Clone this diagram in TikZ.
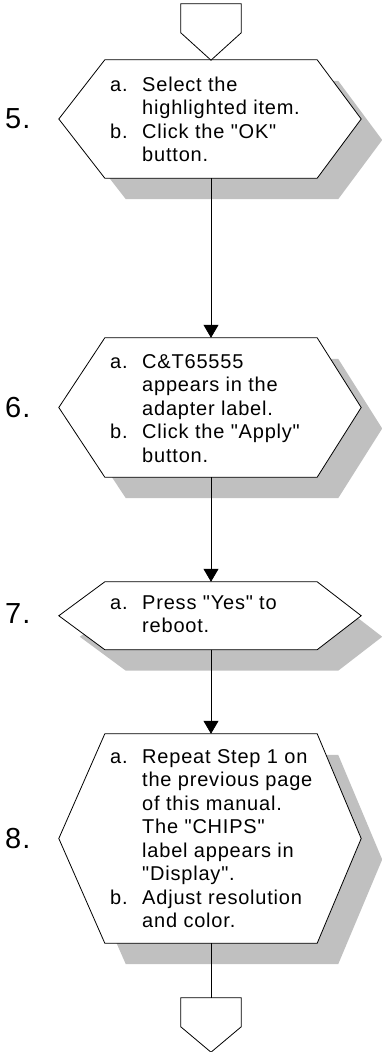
\documentclass[tikz,border=0pt]{standalone}
\usepackage{fontspec}
\setmainfont{Liberation Sans}[LetterSpace=4, Ligatures=TeXOff]
\usetikzlibrary{arrows.meta}
\definecolor{shadowc}{HTML}{C0C0C0}
\newcommand{\steplab}[1]{\makebox[32pt][l]{#1}}
\newcommand{\stepind}{\hspace*{32pt}}
\newcommand{\steptext}[1]{\parbox[t]{250pt}{\fontsize{20}{23.5}\selectfont #1}}
\begin{document}
\begin{tikzpicture}[x=1pt,y=-1pt,
  boxrect/.style={rectangle, draw=none, inner sep=0, minimum width=212pt},
  txt/.style={anchor=base west, inner sep=0},
  num/.style={anchor=west, inner sep=0, font=\fontsize{29}{30}\selectfont},
  outline/.style={draw=black, line width=0.8pt, fill=white, line join=miter},
  link/.style={draw=black, line width=0.8pt},
  arr/.style={link, -{Triangle[length=13pt,width=15pt]}}]
\useasboundingbox (0,0) rectangle (381,1052);

% box frames (main and shadow)
\foreach \n/\cy/\h in {b5/119/118, b6/407.5/139, b7/615.75/67.5, b8/838.5/209}{
  \node[boxrect, minimum height=\h pt] (\n) at (211,\cy) {};
  \node[boxrect, minimum height=\h pt] (\n s) at (232,\cy+21) {};
}

% shadows
\foreach \n in {b5s,b6s,b7s,b8s}{
  \fill[shadowc] (\n.north west) -- (\n.north east) -- ([xshift=44pt]\n.east)
    -- (\n.south east) -- (\n.south west) -- ([xshift=-46pt]\n.west) -- cycle;
}
% hexagons
\foreach \n in {b5,b6,b7,b8}{
  \path[outline] (\n.north west) -- (\n.north east) -- ([xshift=44pt]\n.east)
    -- (\n.south east) -- (\n.south west) -- ([xshift=-46pt]\n.west) -- cycle;
}

% off-page connectors
\node[boxrect, minimum width=60pt, minimum height=56pt] (in) at (211,32) {};
\node[boxrect, minimum width=60pt, minimum height=54pt] (out) at (211,1025) {};
\path[outline] (in.north west) -- (in.north east) -- ([yshift=-29pt]in.north east)
  -- (in.south) -- ([yshift=-29pt]in.north west) -- cycle;
\path[outline] (out.north west) -- (out.north east) -- ([yshift=-29pt]out.north east)
  -- (out.south) -- ([yshift=-29pt]out.north west) -- cycle;

% connectors
\draw[arr] (b5.south) -- (b6.north);
\draw[arr] (b6.south) -- (b7.north);
\draw[arr] (b7.south) -- (b8.north);
\draw[link] (b8.south) -- (out.north);

% step numbers
\node[num] (n5) at (5,119) {5.};
\node[num] (n6) at (5,407.5) {6.};
\node[num] (n7) at (5,614) {7.};
\node[num] (n8) at (5,838.5) {8.};

% texts
\node[txt] (t5) at (110,91) {\steptext{\steplab{a.}Select the\\\stepind highlighted item.\\\steplab{b.}Click the "OK"\\\stepind button.}};
\node[txt] (t6) at (110,368) {\steptext{\steplab{a.}C\&T65555\\\stepind appears in the\\\stepind adapter label.\\\steplab{b.}Click the "Apply"\\\stepind button.}};
\node[txt] (t7) at (110,609) {\steptext{\steplab{a.}Press "Yes" to\\\stepind reboot.}};
\node[txt] (t8) at (110,763) {\steptext{\steplab{a.}Repeat Step 1 on\\\stepind the previous page\\\stepind of this manual.\\\stepind The "CHIPS"\\\stepind label appears in\\\stepind "Display".\\\steplab{b.}Adjust resolution\\\stepind and color.}};
\end{tikzpicture}
\end{document}
